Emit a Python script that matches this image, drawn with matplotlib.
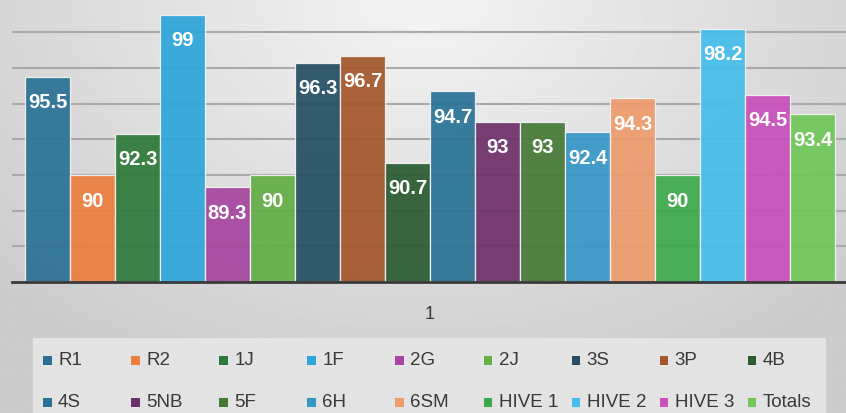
import numpy as np
import matplotlib.pyplot as plt
from matplotlib.patches import Rectangle

# series names and values (single category "1")
series = ['R1', 'R2', '1J', '1F', '2G', '2J', '3S', '3P', '4B',
          '4S', '5NB', '5F', '6H', '6SM', 'HIVE 1', 'HIVE 2', 'HIVE 3', 'Totals']
values = [95.5, 90, 92.3, 99, 89.3, 90, 96.3, 96.7, 90.7,
          94.7, 93, 93, 92.4, 94.3, 90, 98.2, 94.5, 93.4]
colors = ['#2c7195', '#ec7f3f', '#2f7a3b', '#2ea6db', '#a646a0', '#62ae47',
          '#264f64', '#a3572b', '#2b5c31', '#2a7396', '#6f316b', '#467a37',
          '#3796c6', '#ee9b6e', '#3eaa4e', '#45bdea', '#c94fbc', '#70c659']
category = '1'

W, H = 846, 414
plt.rcParams['font.family'] = ['Liberation Sans', 'DejaVu Sans']
fig = plt.figure(figsize=(W / 100, H / 100), dpi=100)

# soft grey gradient background
bg = fig.add_axes([0, 0, 1, 1], zorder=-10)
yy, xx = np.mgrid[0:1:200j, 0:1:400j]
r = np.sqrt(((xx - 0.5) / 0.65) ** 2 + ((yy - 0.02) / 0.95) ** 2)
shade = np.clip(0.955 - 0.15 * r, 0.8, 1)
bg.imshow(shade, cmap='gray', vmin=0, vmax=1, aspect='auto',
          extent=[0, 1, 1, 0])
bg.set_xlim(0, 1)
bg.set_ylim(1, 0)
bg.axis('off')

# legend panel
bg.add_patch(Rectangle((33 / W, 339 / H), (826 - 33) / W, (H - 339) / H + 0.01,
                       facecolor='#ebebeb', alpha=0.75, edgecolor='none'))

# main axes
ax = fig.add_axes([12 / W, (H - 283) / H, 836 / W, 283 / H])
ax.patch.set_alpha(0)
n = len(series)
bw = 45 / 836
for i, (name, v, c) in enumerate(zip(series, values, colors)):
    x = (i - (n - 1) / 2) * bw
    ax.bar(x, v - 84, bottom=84, width=bw, color=c, alpha=0.93,
           edgecolor='#f4f4f4', linewidth=0.9, zorder=2)
    ax.annotate(f'{v:g}', (x, v), xytext=(0, -18), textcoords='offset points',
                ha='center', va='center', color='white', fontsize=14.5,
                fontweight='bold', zorder=3)

ax.set_xlim(-0.5, 0.5)
ax.set_ylim(84, 99.87)
ax.set_yticks(np.arange(86, 100, 2))
ax.yaxis.grid(True, color='#a9a9a9', linewidth=1.5, zorder=0)
ax.set_axisbelow(True)
ax.tick_params(left=False, labelleft=False, bottom=False)
ax.set_xticks([0])
ax.set_xticklabels([category], fontsize=13, color='#3a3a3a')
ax.tick_params(axis='x', pad=13)
for s in ['top', 'right', 'left']:
    ax.spines[s].set_visible(False)
ax.spines['bottom'].set_color('#3a3a3a')
ax.spines['bottom'].set_linewidth(2)

# legend, row-wise like the original
for i, (name, c) in enumerate(zip(series, colors)):
    row, col = divmod(i, 9)
    mx = 43 + col * 88.1
    my = 361 + row * 42
    bg.add_patch(Rectangle((mx / W, (my - 4.5) / H), 8.5 / W, 9 / H,
                           facecolor=c, edgecolor='none'))
    bg.text((mx + 15) / W, my / H, name, fontsize=13.5, color='#3a3a3a',
            ha='left', va='center')

fig.savefig('out.png', dpi=100)
